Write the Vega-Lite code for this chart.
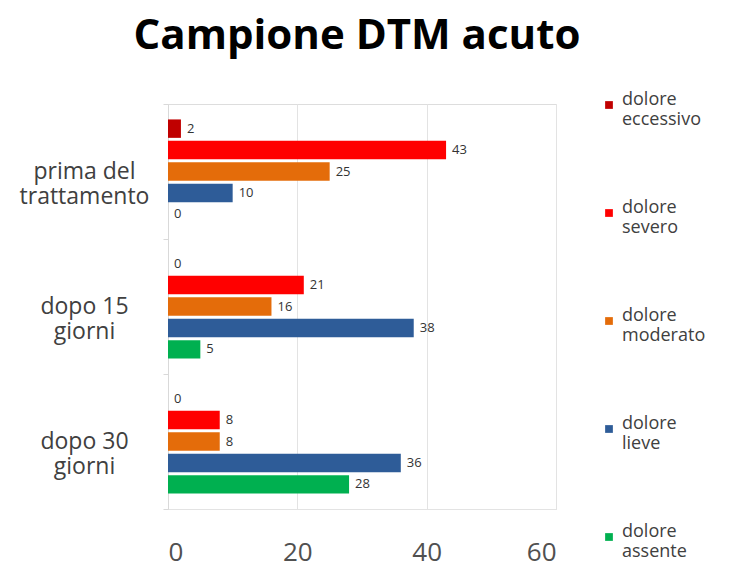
{
  "$schema": "https://vega.github.io/schema/vega-lite/v6.json",
  "width": 388,
  "height": 405,
  "padding": {"left": 19, "top": 15, "right": 5, "bottom": 5},
  "background": "white",
  "title": {
    "text": "Campione DTM acuto",
    "fontSize": 42,
    "fontWeight": "bold",
    "font": "Open Sans",
    "color": "#000000",
    "anchor": "middle",
    "dx": -5,
    "offset": 35
  },
  "data": {
    "values": [
      {"periodo": "prima del trattamento", "livello": "dolore eccessivo", "valore": 2},
      {"periodo": "prima del trattamento", "livello": "dolore severo", "valore": 43},
      {"periodo": "prima del trattamento", "livello": "dolore moderato", "valore": 25},
      {"periodo": "prima del trattamento", "livello": "dolore lieve", "valore": 10},
      {"periodo": "prima del trattamento", "livello": "dolore assente", "valore": 0},
      {"periodo": "dopo 15 giorni", "livello": "dolore eccessivo", "valore": 0},
      {"periodo": "dopo 15 giorni", "livello": "dolore severo", "valore": 21},
      {"periodo": "dopo 15 giorni", "livello": "dolore moderato", "valore": 16},
      {"periodo": "dopo 15 giorni", "livello": "dolore lieve", "valore": 38},
      {"periodo": "dopo 15 giorni", "livello": "dolore assente", "valore": 5},
      {"periodo": "dopo 30 giorni", "livello": "dolore eccessivo", "valore": 0},
      {"periodo": "dopo 30 giorni", "livello": "dolore severo", "valore": 8},
      {"periodo": "dopo 30 giorni", "livello": "dolore moderato", "valore": 8},
      {"periodo": "dopo 30 giorni", "livello": "dolore lieve", "valore": 36},
      {"periodo": "dopo 30 giorni", "livello": "dolore assente", "valore": 28}
    ]
  },
  "encoding": {
    "y": {
      "field": "periodo",
      "type": "nominal",
      "sort": ["prima del trattamento", "dopo 15 giorni", "dopo 30 giorni"],
      "scale": {"paddingInner": 0, "paddingOuter": 0},
      "axis": {
        "title": null,
        "labelExpr": "datum.value == 'prima del trattamento' ? ['prima del', 'trattamento'] : datum.value == 'dopo 15 giorni' ? ['dopo 15', 'giorni'] : datum.value == 'dopo 30 giorni' ? ['dopo 30', 'giorni'] : ''",
        "labelAlign": "center",
        "labelPadding": 79,
        "labelFontSize": 23,
        "labelFont": "Open Sans",
        "labelColor": "#404040",
        "tickBand": "extent",
        "tickSize": 5,
        "tickColor": "#d9d9d9",
        "domainColor": "#d9d9d9"
      }
    },
    "yOffset": {
      "field": "livello",
      "type": "nominal",
      "sort": ["dolore eccessivo", "dolore severo", "dolore moderato", "dolore lieve", "dolore assente"],
      "scale": {"paddingInner": 0.14, "paddingOuter": 0.72}
    },
    "x": {
      "field": "valore",
      "type": "quantitative",
      "scale": {"domain": [0, 60]},
      "axis": {
        "title": null,
        "values": [0, 20, 40, 60],
        "labelFontSize": 26,
        "labelFont": "Open Sans",
        "labelColor": "#505050",
        "labelPadding": 30,
        "ticks": false,
        "grid": true,
        "gridColor": "#e3e3e3",
        "domainColor": "#e3e3e3"
      }
    }
  },
  "layer": [
    {
      "mark": {"type": "bar"},
      "encoding": {
        "color": {
          "field": "livello",
          "type": "nominal",
          "scale": {
            "domain": ["dolore eccessivo", "dolore severo", "dolore moderato", "dolore lieve", "dolore assente"],
            "range": ["#C00000", "#FF0000", "#E46C0A", "#2E5C98", "#00B050"]
          },
          "legend": {
            "title": null,
            "orient": "none",
            "legendX": 432,
            "legendY": -8,
            "symbolType": "square",
            "symbolSize": 60,
            "labelExpr": "split(datum.label, ' ')",
            "labelFontSize": 18,
            "labelFont": "Open Sans",
            "labelColor": "#404040",
            "labelBaseline": "alphabetic",
            "labelOffset": 4,
            "rowPadding": 70
          }
        }
      }
    },
    {
      "mark": {"type": "text", "align": "left", "baseline": "middle", "dx": 6, "fontSize": 13, "font": "Open Sans", "color": "#333333"},
      "encoding": {
        "text": {"field": "valore", "type": "quantitative"}
      }
    }
  ]
}
